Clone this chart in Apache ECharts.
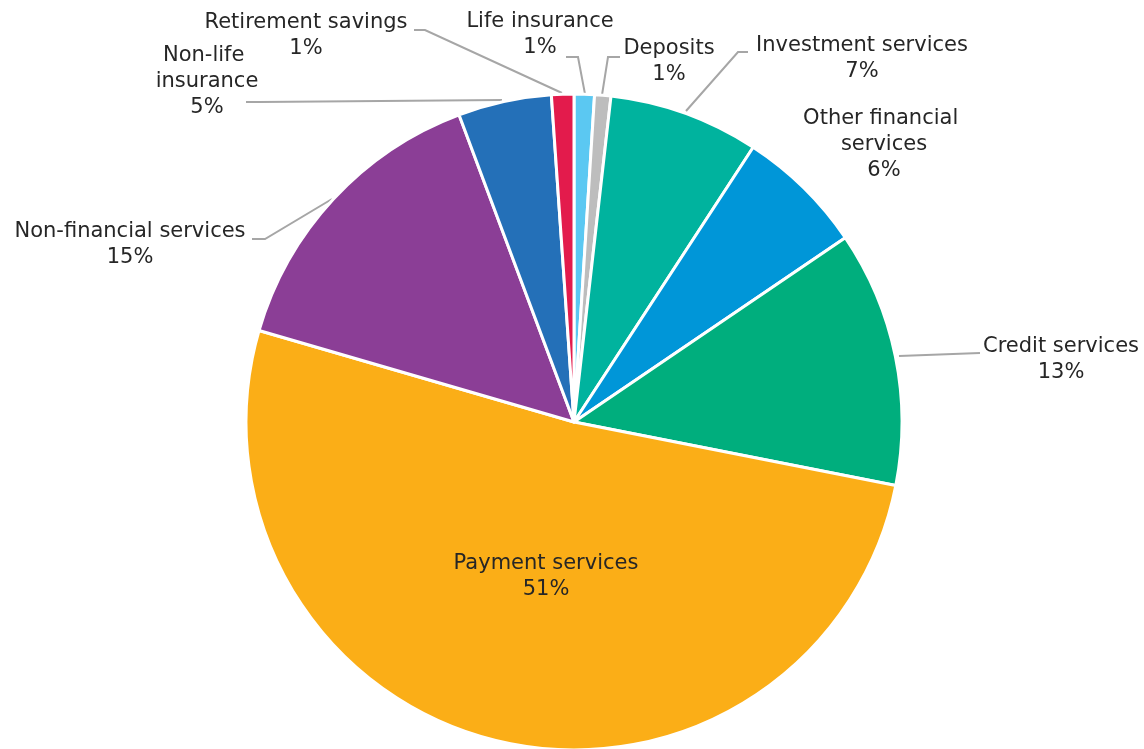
<!DOCTYPE html>
<html>
<head>
<meta charset="utf-8">
<script src="https://cdn.jsdelivr.net/npm/echarts@6/dist/echarts.min.js"></script>
<style>
html,body{margin:0;padding:0;background:#fff;}
#chart{width:1144px;height:749px;}
</style>
</head>
<body>
<div id="chart"></div>
<script>
// Data (clockwise from 12 o'clock)
const categories = ['Life insurance','Deposits','Investment services','Other financial services','Credit services','Payment services','Non-financial services','Non-life insurance','Retirement savings'];
const shares = [1.0, 0.8, 7.4, 6.3, 12.6, 51.4, 14.8, 4.6, 1.1];

// Styles
const colors = ['#5BC8F2','#BDBDBD','#00B39E','#0096D8','#00AE7D','#FBAE17','#8B3E96','#2470B8','#E31B4C'];
// Label placement (block centres) and leader lines, in pixels
const labelPos = [[540,35],[669,62],[862,59],[884,145],[1061,360],[546,577],[130,245],[207,82],[306,36]];
const labelLines = [
  [[585,94],[578,57],[566,57]],
  [[602,95],[608,57],[620,57]],
  [[686,111],[738,52],[748,52]],
  null,
  [[899,356],[980,353],[980,353]],
  null,
  [[332,199],[265,239],[252,239]],
  [[502,100],[260,102],[246,102]],
  [[562,93],[425,30],[414,30]]
];
const labelWidths = [null,null,null,175,null,null,null,110,null];

const chart = echarts.init(document.getElementById('chart'), null, {renderer:'canvas'});
const data = categories.map((c,i)=>{
  const item = {name:c, value:shares[i], itemStyle:{color:colors[i]}};
  if (labelWidths[i]) item.label = {width:labelWidths[i], overflow:'break'};
  if (!labelLines[i]) item.labelLine = {show:false};
  return item;
});
chart.setOption({
  animation:false,
  series:[{
    type:'pie',
    center:[574,422],
    radius:[0,328],
    startAngle:90,
    clockwise:true,
    avoidLabelOverlap:false,
    data:data,
    itemStyle:{borderColor:'#fff', borderWidth:3},
    label:{
      show:true,
      position:'outside',
      fontFamily:'DejaVu Sans',
      fontSize:21,
      lineHeight:26,
      color:'#262626',
      align:'center',
      formatter:p=>p.name+'\n'+Math.round(p.percent)+'%'
    },
    labelLine:{show:true, lineStyle:{color:'#A6A6A6', width:2}},
    labelLayout:function(params){
      const i = params.dataIndex;
      const r = {x:labelPos[i][0], y:labelPos[i][1], align:'center', verticalAlign:'middle'};
      if (labelLines[i]) r.labelLinePoints = labelLines[i];
      return r;
    }
  }]
});
</script>
</body>
</html>
